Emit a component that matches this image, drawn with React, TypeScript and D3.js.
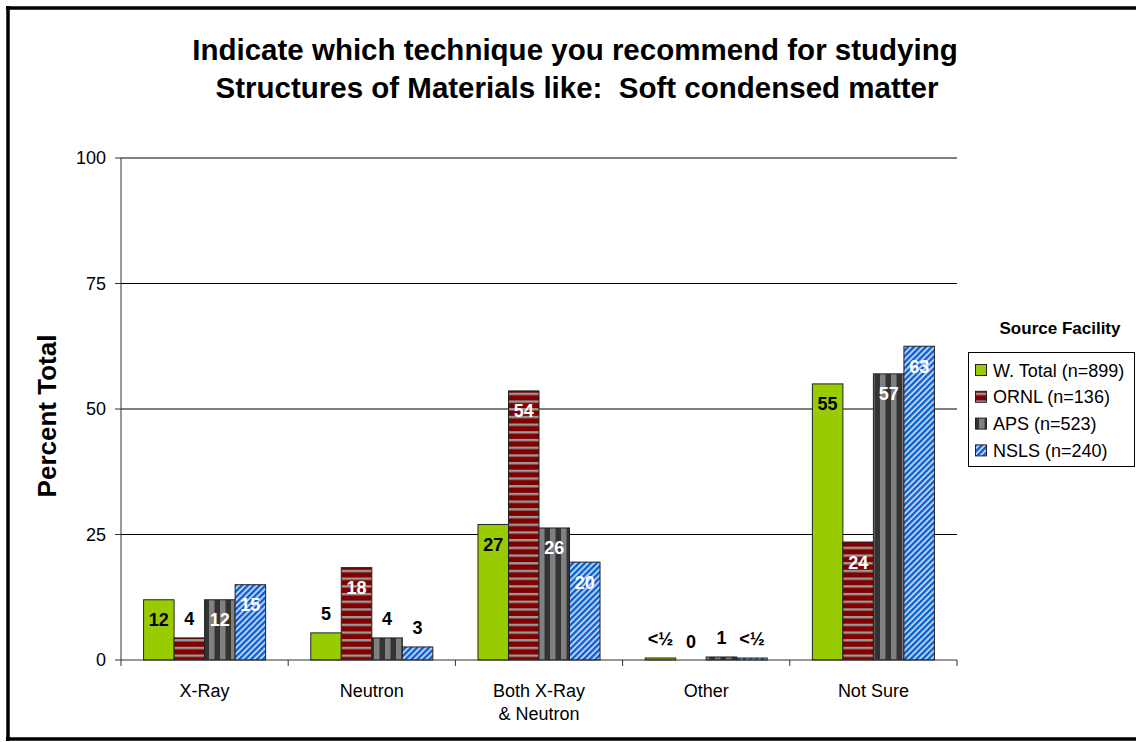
import React from "react";
import * as d3 from "d3";

const categories = ["X-Ray", "Neutron", "Both X-Ray\n& Neutron", "Other", "Not Sure"];
const seriesNames = ["W. Total (n=899)", "ORNL (n=136)", "APS (n=523)", "NSLS (n=240)"];
const wTotal = [12, 5.4, 27, 0.4, 55];
const ornl = [4.4, 18.4, 53.6, 0, 23.5];
const aps = [12, 4.4, 26.3, 0.6, 57];
const nsls = [15, 2.6, 19.5, 0.4, 62.5];
const wTotalLabels = ["12", "5", "27", "<½", "55"];
const ornlLabels = ["4", "18", "54", "0", "24"];
const apsLabels = ["12", "4", "26", "1", "57"];
const nslsLabels = ["15", "3", "20", "<½", "63"];
const yTicks = [0, 25, 50, 75, 100];

const series = [
  { name: seriesNames[0], values: wTotal, labels: wTotalLabels, fill: "#99cc00", inText: "#000" },
  { name: seriesNames[1], values: ornl, labels: ornlLabels, fill: "url(#pRed)", inText: "#fff" },
  { name: seriesNames[2], values: aps, labels: apsLabels, fill: "url(#pGray)", inText: "#fff" },
  { name: seriesNames[3], values: nsls, labels: nslsLabels, fill: "url(#pBlue)", inText: "#fff" },
];

const W = 1136;
const H = 742;
const plot = { left: 121, right: 957, top: 158, bottom: 660 };
const font = "'Liberation Sans', Arial, sans-serif";

export default function App() {
  const x0 = d3.scaleBand<string>().domain(categories).range([plot.left, plot.right]).padding(0);
  const x1 = d3
    .scaleBand<string>()
    .domain(seriesNames)
    .range([0, x0.bandwidth()])
    .paddingInner(0)
    .paddingOuter(0.74);
  const y = d3.scaleLinear().domain([0, 100]).range([plot.bottom, plot.top]);

  return (
    <div style={{ position: "absolute", left: 0, top: 0 }}>
      <svg width={W} height={H} viewBox={`0 0 ${W} ${H}`} style={{ display: "block", fontFamily: font }}>
        <defs>
          <pattern id="pRed" patternUnits="userSpaceOnUse" width={8} height={7.7}>
            <rect width={8} height={7.7} fill="#800000" />
            <rect y={0} width={8} height={2.4} fill="#999999" />
          </pattern>
          <pattern id="pGray" patternUnits="userSpaceOnUse" width={11} height={4}>
            <rect width={11} height={4} fill="#333333" />
            <rect x={0} width={5.5} height={4} fill="#808080" />
          </pattern>
          <pattern id="pBlue" patternUnits="userSpaceOnUse" width={4.2} height={4.2} patternTransform="rotate(45)">
            <rect width={4.2} height={4.2} fill="#ccccff" />
            <rect width={2.3} height={4.2} fill="#0066cc" />
          </pattern>
        </defs>
        <rect width={W} height={H} fill="#fff" />

        {/* outer frame */}
        <line x1={6} x2={W} y1={8} y2={8} stroke="#000" strokeWidth={3.5} />
        <line x1={8} x2={8} y1={6} y2={741} stroke="#000" strokeWidth={3.5} />
        <line x1={6} x2={W} y1={739} y2={739} stroke="#000" strokeWidth={3.5} />

        {/* title */}
        <text x={575} y={60} textAnchor="middle" fontSize={29.5} fontWeight="bold">
          Indicate which technique you recommend for studying
        </text>
        <text x={577} y={98} textAnchor="middle" fontSize={29.5} fontWeight="bold" style={{ whiteSpace: "pre" }}>
          {"Structures of Materials like:  Soft condensed matter"}
        </text>

        {/* gridlines */}
        {yTicks.filter((t) => t > 0).map((t) => (
          <line key={t} x1={plot.left} x2={plot.right} y1={y(t)} y2={y(t)} stroke="#000" strokeWidth={1} />
        ))}

        {/* y axis */}
        <line x1={plot.left} x2={plot.left} y1={plot.top} y2={plot.bottom} stroke="#333" strokeWidth={1} />
        {yTicks.map((t) => (
          <g key={t}>
            <line x1={plot.left - 6} x2={plot.left} y1={y(t)} y2={y(t)} stroke="#333" />
            <text x={106} y={y(t) + 6} textAnchor="end" fontSize={18}>
              {t}
            </text>
          </g>
        ))}
        <text
          transform={`translate(56,416) rotate(-90)`}
          textAnchor="middle"
          fontSize={26}
          fontWeight="bold"
        >
          Percent Total
        </text>

        {/* bars */}
        {categories.map((c, ci) => (
          <g key={c}>
            {series.map((s) => {
              const v = s.values[ci];
              const bx = (x0(c) || 0) + (x1(s.name) || 0);
              const top = y(v);
              const outside = v < 7;
              return (
                <g key={s.name}>
                  {v > 0 && (
                    <rect
                      x={bx}
                      y={top}
                      width={x1.bandwidth()}
                      height={plot.bottom - top}
                      fill={s.fill}
                      stroke="#222"
                      strokeWidth={1}
                    />
                  )}
                  <text
                    x={bx + x1.bandwidth() / 2}
                    y={(outside ? top - 19 : top + 20) + 6.5}
                    textAnchor="middle"
                    fontSize={18}
                    fontWeight="bold"
                    fill={outside ? "#000" : s.inText}
                  >
                    {s.labels[ci]}
                  </text>
                </g>
              );
            })}
          </g>
        ))}

        {/* x axis */}
        <line x1={plot.left} x2={plot.right} y1={plot.bottom} y2={plot.bottom} stroke="#333" />
        {categories.map((c) => (
          <line key={c} x1={x0(c) || 0} x2={x0(c) || 0} y1={plot.bottom} y2={plot.bottom + 6} stroke="#333" />
        ))}
        <line x1={plot.right} x2={plot.right} y1={plot.bottom} y2={plot.bottom + 6} stroke="#333" />
        {categories.map((c) => (
          <text key={c} x={(x0(c) || 0) + x0.bandwidth() / 2} y={697} textAnchor="middle" fontSize={18}>
            {c.split("\n").map((line, i) => (
              <tspan key={i} x={(x0(c) || 0) + x0.bandwidth() / 2} dy={i === 0 ? 0 : 23}>
                {line}
              </tspan>
            ))}
          </text>
        ))}

        {/* legend */}
        <text x={1060} y={334} textAnchor="middle" fontSize={17} fontWeight="bold">
          Source Facility
        </text>
        <rect x={968.5} y={352.5} width={166} height={114} fill="#fff" stroke="#000" />
        {series.map((s, i) => {
          const cy = 370 + i * 26.8;
          return (
            <g key={s.name}>
              <rect x={975.5} y={cy - 5.5} width={11} height={11} fill={s.fill} stroke="#222" />
              <text x={993} y={cy + 6.5} fontSize={18}>
                {s.name}
              </text>
            </g>
          );
        })}
      </svg>
    </div>
  );
}
